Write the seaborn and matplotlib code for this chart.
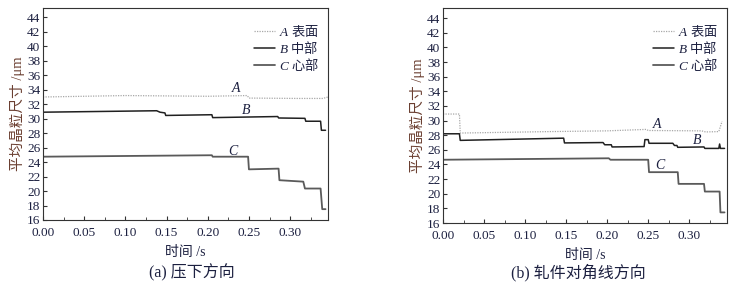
import matplotlib
matplotlib.use('Agg')
import matplotlib.pyplot as plt
from matplotlib.ticker import MultipleLocator, FormatStrFormatter
import seaborn as sns

# (a) 压下方向
a_t_A = [0, 0.10, 0.20, 0.248, 0.250, 0.31, 0.34, 0.346]
a_A = [33.0, 33.2, 33.1, 33.2, 32.85, 32.8, 32.8, 33.0]
a_t_B = [0, 0.138, 0.142, 0.148, 0.149, 0.205, 0.206, 0.285, 0.286, 0.318, 0.319, 0.337, 0.338, 0.343]
a_B = [30.9, 31.1, 30.9, 30.8, 30.45, 30.55, 30.15, 30.3, 30.1, 30.05, 29.65, 29.65, 28.4, 28.4]
a_t_C = [0, 0.205, 0.206, 0.249, 0.250, 0.286, 0.287, 0.316, 0.318, 0.337, 0.339, 0.343]
a_C = [24.75, 24.95, 24.75, 24.75, 23.0, 23.1, 21.5, 21.3, 20.35, 20.35, 17.5, 17.5]

# (b) 轧件对角线方向
b_t_A = [0, 0.020, 0.021, 0.13, 0.20, 0.248, 0.25, 0.315, 0.32, 0.336, 0.34]
b_A = [30.9, 30.9, 28.3, 28.5, 28.6, 28.8, 28.65, 28.6, 28.45, 28.5, 29.9]
b_t_B = [0, 0.020, 0.021, 0.147, 0.148, 0.195, 0.197, 0.205, 0.206, 0.245, 0.246, 0.250,
         0.251, 0.280, 0.282, 0.285, 0.286, 0.318, 0.319, 0.336, 0.337, 0.338, 0.343]
b_B = [28.2, 28.2, 27.3, 27.6, 26.95, 27.0, 26.7, 26.7, 26.4, 26.45, 27.4, 27.4,
       26.9, 26.9, 26.6, 26.6, 26.35, 26.4, 26.2, 26.2, 26.8, 26.2, 26.2]
b_t_C = [0, 0.202, 0.204, 0.250, 0.251, 0.286, 0.287, 0.318, 0.319, 0.337, 0.338, 0.343]
b_C = [24.65, 24.85, 24.65, 24.65, 22.95, 22.95, 21.35, 21.35, 20.3, 20.3, 17.45, 17.45]

legend_labels = [r'$\mathit{A}\ \mathrm{表面}$', r'$\mathit{B}\ \mathrm{中部}$', r'$\mathit{C}\ \mathrm{心部}$']
captions = ['(a) 压下方向', '(b) 轧件对角线方向']

sns.set_style('ticks')
plt.rcParams['font.family'] = ['Liberation Serif', 'Noto Sans CJK SC']
# mathtext: italic latin letters + CJK upright in the same label
plt.rcParams['mathtext.fontset'] = 'custom'
plt.rcParams['mathtext.rm'] = 'Noto Sans CJK SC'
plt.rcParams['mathtext.it'] = 'Liberation Serif:italic'
plt.rcParams['xtick.direction'] = 'in'
plt.rcParams['ytick.direction'] = 'in'

txt_col = '#1c2040'
fig = plt.figure(figsize=(7.41, 2.83), dpi=100)

panels = [
    dict(rect=[43/741, 1-220/283, 285/741, 212/283], ylim=(16, 45.3),
         data=[(a_t_A, a_A), (a_t_B, a_B), (a_t_C, a_C)],
         notes=[('A', 0.235, 34.3), ('B', 0.247, 31.2), ('C', 0.232, 25.6)],
         cap_x=192),
    dict(rect=[443/741, 1-223/283, 284/741, 215/283], ylim=(16, 45.4),
         data=[(b_t_A, b_A), (b_t_B, b_B), (b_t_C, b_C)],
         notes=[('A', 0.262, 29.5), ('B', 0.309, 27.3), ('C', 0.265, 23.9)],
         cap_x=578),
]
styles = [dict(color='#a8a8a8', linestyle=(0, (1, 1)), linewidth=0.9),
          dict(color='#202020', linestyle='-', linewidth=1.1),
          dict(color='#5a5a5a', linestyle='-', linewidth=1.3)]

for i, p in enumerate(panels):
    ax = fig.add_axes(p['rect'])
    for (t, v), st, lab in zip(p['data'], styles, legend_labels):
        sns.lineplot(x=t, y=v, ax=ax, estimator=None, sort=False, label=lab, **st)
    ax.set_xlim(0, 0.346)
    ax.set_ylim(*p['ylim'])
    ax.xaxis.set_major_locator(MultipleLocator(0.05))
    ax.xaxis.set_minor_locator(MultipleLocator(0.025))
    ax.set_yticks(range(16, 45, 2))
    ax.xaxis.set_major_formatter(FormatStrFormatter('%.2f'))
    ax.tick_params(axis='both', which='major', length=3, labelsize=9.5, colors='#333333',
                   labelcolor=txt_col, pad=2)
    ax.tick_params(axis='x', which='major', pad=5)
    ax.tick_params(axis='x', which='minor', length=2, colors='#333333')
    for s in ax.spines.values():
        s.set_linewidth(0.8)
        s.set_color('#333333')
    ax.set_xlabel('时间 /s', fontsize=10, color=txt_col, labelpad=5)
    ax.set_ylabel('平均晶粒尺寸 /μm', fontsize=10.5, color='#6a3e30', labelpad=1)
    for letter, x, y in p['notes']:
        ax.text(x, y, r'$\mathit{%s}$' % letter, fontsize=10, color=txt_col,
                ha='center', va='center')
    leg = ax.legend(loc='upper right', frameon=False, fontsize=9.5, handlelength=1.6,
                    handletextpad=0.3, labelspacing=0.0, borderaxespad=0.3,
                    bbox_to_anchor=(1.0, 0.97))
    for t in leg.get_texts():
        t.set_color(txt_col)
    fig.text(p['cap_x'] / 741, 1 - 273 / 283, captions[i], fontsize=11.5,
             color=txt_col, ha='center', va='center')

fig.savefig('out.png', dpi=100, facecolor='white')
